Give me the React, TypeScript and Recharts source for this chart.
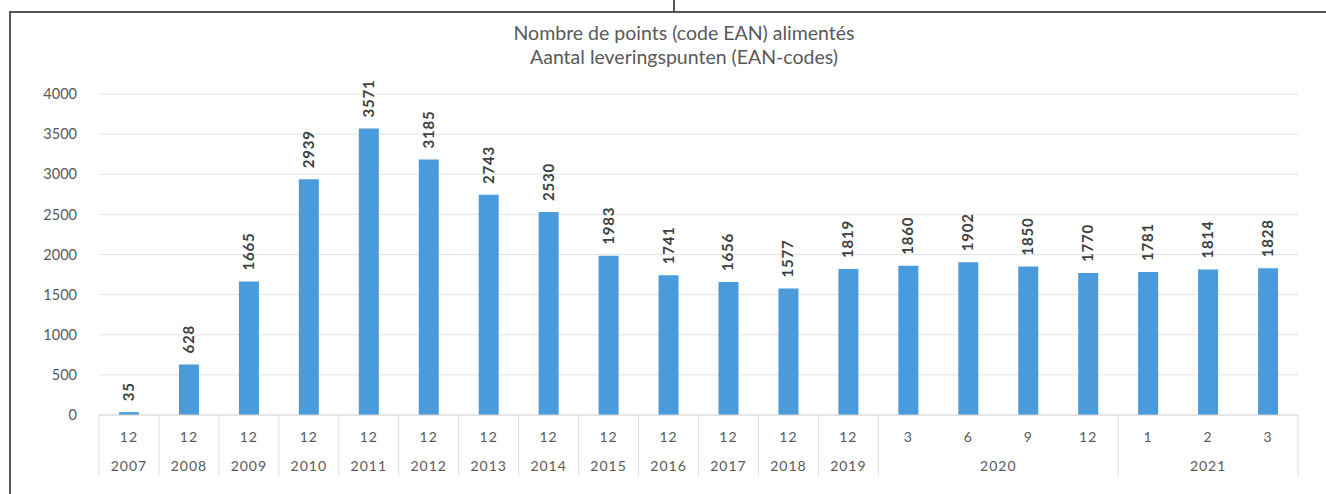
import { BarChart, Bar, XAxis, YAxis, CartesianGrid, LabelList } from "recharts"

const months = ["12", "12", "12", "12", "12", "12", "12", "12", "12", "12", "12", "12", "12", "3", "6", "9", "12", "1", "2", "3"]
const years = ["2007", "2008", "2009", "2010", "2011", "2012", "2013", "2014", "2015", "2016", "2017", "2018", "2019", "2020", "2020", "2020", "2020", "2021", "2021", "2021"]
const eanPoints = [35, 628, 1665, 2939, 3571, 3185, 2743, 2530, 1983, 1741, 1656, 1577, 1819, 1860, 1902, 1850, 1770, 1781, 1814, 1828]
const yTicks = [0, 500, 1000, 1500, 2000, 2500, 3000, 3500, 4000]

const data = months.map((m, i) => ({ id: i, month: m, year: years[i], value: eanPoints[i] }))

const FONT = "Lato, 'Open Sans', sans-serif"
const BAND = 60
const AXIS_Y = 415
const SEP_BOTTOM = 476

function CategoryTick(props: any) {
  const { x, payload } = props
  const i = payload.index
  const left = x - BAND / 2
  const newYear = i === 0 || years[i] !== years[i - 1]
  const last = i === years.length - 1
  let span = 0
  if (newYear) {
    while (i + span < years.length && years[i + span] === years[i]) span++
  }
  return (
    <g>
      <text x={x} y={442} textAnchor="middle" fontSize={14} letterSpacing={1} fill="#595959" fontFamily={FONT}>
        {months[i]}
      </text>
      {newYear && (
        <>
          <line x1={left} x2={left} y1={AXIS_Y} y2={SEP_BOTTOM} stroke="#dcdcdc" />
          <text x={left + (span * BAND) / 2} y={471} textAnchor="middle" fontSize={14} letterSpacing={1} fill="#595959" fontFamily={FONT}>
            {years[i]}
          </text>
        </>
      )}
      {last && <line x1={x + BAND / 2} x2={x + BAND / 2} y1={AXIS_Y} y2={SEP_BOTTOM} stroke="#dcdcdc" />}
    </g>
  )
}

function ValueLabel(props: any) {
  const { x, y, width, value } = props
  const cx = x + width / 2 + 5
  const by = y - 11
  return (
    <text x={cx} y={by} transform={`rotate(-90 ${cx} ${by})`} textAnchor="start" fontSize={15} letterSpacing={0.8} fontWeight="bold" fill="#404040" fontFamily={FONT}>
      {value}
    </text>
  )
}

export default function App() {
  return (
    <div style={{ position: "fixed", left: 0, top: 0, width: 1326, height: 494, background: "#fff", overflow: "hidden" }}>
      {/* page frame around the figure */}
      <div style={{ position: "absolute", left: 9, top: 11, width: 1330, height: 500, borderTop: "2px solid #555", borderLeft: "2px solid #555" }} />
      <div style={{ position: "absolute", left: 673, top: 0, width: 2, height: 12, background: "#555" }} />
      <div style={{ position: "absolute", left: 0, top: 21, width: 1368, textAlign: "center", fontFamily: FONT, fontSize: 19.5, color: "#595959", lineHeight: "24px" }}>
        <div>Nombre de points (code EAN) alimentés</div>
        <div>Aantal leveringspunten (EAN-codes)</div>
      </div>
      <div style={{ position: "absolute", left: 0, top: 0 }}>
        <BarChart width={1326} height={494} data={data} margin={{ top: 94, right: 28, left: 0, bottom: 0 }}>
          <CartesianGrid vertical={false} stroke="#e3e3e3" />
          <XAxis dataKey="id" height={79} tickLine={false} axisLine={{ stroke: "#d9d9d9" }} interval={0} tick={<CategoryTick />} />
          <YAxis
            domain={[0, 4000]}
            ticks={yTicks}
            width={99}
            axisLine={false}
            tickLine={false}
            tickMargin={16}
            tick={{ fontSize: 14.5, fill: "#595959", fontFamily: FONT }}
          />
          <Bar dataKey="value" fill="#4a9bdc" barSize={20} isAnimationActive={false}>
            <LabelList dataKey="value" content={<ValueLabel />} />
          </Bar>
        </BarChart>
      </div>
    </div>
  )
}
